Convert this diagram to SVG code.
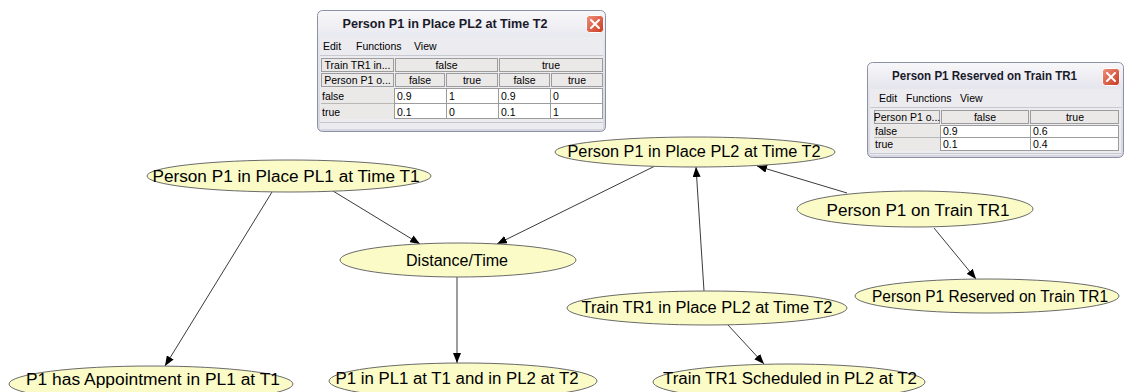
<svg xmlns="http://www.w3.org/2000/svg" width="1128" height="392" viewBox="0 0 1128 392">
  <style>
    .node ellipse { fill: #fbfbc8; stroke: #6a6a6a; stroke-width: 1; }
    .node text { font-family: "Liberation Sans", Arial, sans-serif; font-size: 16px; fill: #000; text-anchor: middle; }
    .edge { stroke: #3a3a3a; stroke-width: 1; fill: none; marker-end: url(#arrow); }
    .frame { fill: url(#titleGrad); stroke: #8c90a4; stroke-width: 1; }
    .body { fill: #ecebf0; }
    .title { font-family: "Liberation Sans", Arial, sans-serif; font-weight: bold; font-size: 13px; fill: #1a1a2a; text-anchor: middle; }
    .menu { font-family: "Liberation Sans", Arial, sans-serif; font-size: 10.5px; fill: #000; }
    .hdr { fill: #ebe8e8; stroke: #9c9c9c; stroke-width: 1; }
    .cell { fill: #ffffff; stroke: #9c9c9c; stroke-width: 1; }
    .t { font-family: "Liberation Sans", Arial, sans-serif; font-size: 10.5px; fill: #000; }
    .c { text-anchor: middle; }
    .close { fill: url(#closeGrad); stroke: #ffffff; stroke-width: 1; }
    .x { stroke: #ffffff; stroke-width: 2; stroke-linecap: round; }
  </style>
  <defs>
    <marker id="arrow" viewBox="0 0 10 8" refX="10" refY="4" markerWidth="10" markerHeight="8" markerUnits="userSpaceOnUse" orient="auto">
      <path d="M0,0 L10,4 L0,8 Z" fill="#000"/>
    </marker>
    <linearGradient id="titleGrad" x1="0" y1="0" x2="0" y2="1">
      <stop offset="0" stop-color="#f8f8fa"/>
      <stop offset="0.25" stop-color="#e6e6ee"/>
      <stop offset="1" stop-color="#d6d6e0"/>
    </linearGradient>
    <linearGradient id="closeGrad" x1="0" y1="0" x2="1" y2="1">
      <stop offset="0" stop-color="#f0907a"/>
      <stop offset="1" stop-color="#c83a20"/>
    </linearGradient>
  </defs>

  <rect width="1128" height="392" fill="#ffffff"/>

  <!-- connectors -->
  <g id="connectors">
    <line class="edge" x1="333" y1="191" x2="420" y2="244"/>
    <line class="edge" x1="655" y1="166" x2="497" y2="244"/>
    <line class="edge" x1="272" y1="192" x2="165" y2="366"/>
    <line class="edge" x1="457" y1="277" x2="457" y2="363"/>
    <line class="edge" x1="704" y1="291" x2="696" y2="167"/>
    <line class="edge" x1="847" y1="193" x2="757" y2="166"/>
    <line class="edge" x1="728" y1="325" x2="764" y2="364"/>
    <line class="edge" x1="934" y1="228" x2="976" y2="279"/>
  </g>

  <!-- nodes -->
  <g id="n_pl1_t1" class="node">
    <ellipse cx="289" cy="176" rx="142" ry="16"/>
    <text x="286" y="182" textLength="267" lengthAdjust="spacingAndGlyphs">Person P1 in Place PL1 at Time T1</text>
  </g>
  <g id="n_pl2_t2" class="node">
    <ellipse cx="695" cy="152" rx="140" ry="15"/>
    <text x="694" y="157" textLength="253" lengthAdjust="spacingAndGlyphs">Person P1 in Place PL2 at Time T2</text>
  </g>
  <g id="n_distance" class="node">
    <ellipse cx="458" cy="260" rx="118" ry="17"/>
    <text x="457" y="266" textLength="102" lengthAdjust="spacingAndGlyphs">Distance/Time</text>
  </g>
  <g id="n_on_train" class="node">
    <ellipse cx="915" cy="209" rx="118" ry="18"/>
    <text x="918" y="216" textLength="183" lengthAdjust="spacingAndGlyphs">Person P1 on Train TR1</text>
  </g>
  <g id="n_reserved" class="node">
    <ellipse cx="987" cy="296" rx="132" ry="17"/>
    <text x="990" y="302" textLength="236" lengthAdjust="spacingAndGlyphs">Person P1 Reserved on Train TR1</text>
  </g>
  <g id="n_train_pl2" class="node">
    <ellipse cx="707" cy="308" rx="140" ry="17"/>
    <text x="707" y="313" textLength="251" lengthAdjust="spacingAndGlyphs">Train TR1 in Place PL2 at Time T2</text>
  </g>
  <g id="n_scheduled" class="node">
    <ellipse cx="789" cy="382" rx="136" ry="18"/>
    <text x="790" y="384" textLength="254" lengthAdjust="spacingAndGlyphs">Train TR1 Scheduled in PL2 at T2</text>
  </g>
  <g id="n_appointment" class="node">
    <ellipse cx="151" cy="384" rx="142" ry="18"/>
    <text x="153" y="385" textLength="254" lengthAdjust="spacingAndGlyphs">P1 has Appointment in PL1 at T1</text>
  </g>
  <g id="n_both_places" class="node">
    <ellipse cx="463" cy="381" rx="134" ry="18"/>
    <text x="457" y="384" textLength="243" lengthAdjust="spacingAndGlyphs">P1 in PL1 at T1 and in PL2 at T2</text>
  </g>

  <!-- probability table window: Person P1 in Place PL2 at Time T2 -->
  <g id="table_pl2_t2">
    <rect class="frame" x="317.5" y="10.5" width="288" height="121" rx="5"/>
    <text class="title" x="445" y="28" textLength="205" lengthAdjust="spacingAndGlyphs">Person P1 in Place PL2 at Time T2</text>
    <rect class="close" x="586.5" y="15.5" width="17" height="17" rx="3"/>
    <line class="x" x1="591" y1="20" x2="599" y2="28"/>
    <line class="x" x1="599" y1="20" x2="591" y2="28"/>
    <rect class="body" x="320" y="37" width="283" height="92"/>
    <line x1="320" y1="55.5" x2="603" y2="55.5" stroke="#c8c8d0"/>
    <text class="menu" x="323" y="50">Edit</text>
    <text class="menu" x="356" y="50">Functions</text>
    <text class="menu" x="414" y="50">View</text>
    <!-- header rows -->
    <rect class="hdr" x="321.5" y="58.5" width="72" height="13"/>
    <rect class="hdr" x="395.5" y="58.5" width="102" height="13"/>
    <rect class="hdr" x="499.5" y="58.5" width="103" height="13"/>
    <text class="t c" x="357.5" y="69">Train TR1 in...</text>
    <text class="t c" x="446.5" y="69">false</text>
    <text class="t c" x="551" y="69">true</text>
    <rect class="hdr" x="321.5" y="73.5" width="72" height="13"/>
    <rect class="hdr" x="395.5" y="73.5" width="49" height="13"/>
    <rect class="hdr" x="446.5" y="73.5" width="51" height="13"/>
    <rect class="hdr" x="499.5" y="73.5" width="50" height="13"/>
    <rect class="hdr" x="551.5" y="73.5" width="51" height="13"/>
    <text class="t c" x="357.5" y="84">Person P1 o...</text>
    <text class="t c" x="420" y="84">false</text>
    <text class="t c" x="472" y="84">true</text>
    <text class="t c" x="524.5" y="84">false</text>
    <text class="t c" x="577" y="84">true</text>
    <!-- probability rows -->
    <rect x="321" y="88" width="73" height="31" fill="#ebe8e8"/>
    <rect class="cell" x="394.5" y="88.5" width="208" height="15"/>
    <rect class="cell" x="394.5" y="103.5" width="208" height="15"/>
    <line x1="446.5" y1="88" x2="446.5" y2="119" stroke="#9c9c9c"/>
    <line x1="498.5" y1="88" x2="498.5" y2="119" stroke="#9c9c9c"/>
    <line x1="550.5" y1="88" x2="550.5" y2="119" stroke="#9c9c9c"/>
    <line x1="321" y1="103.5" x2="394" y2="103.5" stroke="#b8b8b8"/>
    <text class="t" x="322" y="100">false</text>
    <text class="t" x="397" y="100">0.9</text>
    <text class="t" x="449" y="100">1</text>
    <text class="t" x="501" y="100">0.9</text>
    <text class="t" x="553" y="100">0</text>
    <text class="t" x="322" y="116">true</text>
    <text class="t" x="397" y="116">0.1</text>
    <text class="t" x="449" y="116">0</text>
    <text class="t" x="501" y="116">0.1</text>
    <text class="t" x="553" y="116">1</text>
    <line x1="320" y1="122.5" x2="603" y2="122.5" stroke="#c8c8d0"/>
  </g>

  <!-- probability table window: Person P1 Reserved on Train TR1 -->
  <g id="table_reserved">
    <rect class="frame" x="867.5" y="62.5" width="256" height="95" rx="5"/>
    <text class="title" x="984.5" y="80" textLength="185" lengthAdjust="spacingAndGlyphs">Person P1 Reserved on Train TR1</text>
    <rect class="close" x="1102.5" y="68.5" width="17" height="17" rx="3"/>
    <line class="x" x1="1107" y1="73" x2="1115" y2="81"/>
    <line class="x" x1="1115" y1="73" x2="1107" y2="81"/>
    <rect class="body" x="870" y="89" width="251" height="66"/>
    <line x1="870" y1="107.5" x2="1121" y2="107.5" stroke="#c8c8d0"/>
    <text class="menu" x="879" y="102">Edit</text>
    <text class="menu" x="906" y="102">Functions</text>
    <text class="menu" x="960" y="102">View</text>
    <rect class="hdr" x="874.5" y="110.5" width="65" height="13"/>
    <rect class="hdr" x="941.5" y="110.5" width="87" height="13"/>
    <rect class="hdr" x="1030.5" y="110.5" width="88" height="13"/>
    <text class="t c" x="907" y="121">Person P1 o...</text>
    <text class="t c" x="985" y="121">false</text>
    <text class="t c" x="1075" y="121">true</text>
    <rect x="874" y="125" width="67" height="26" fill="#ebe8e8"/>
    <rect class="cell" x="940.5" y="125.5" width="178" height="12"/>
    <rect class="cell" x="940.5" y="137.5" width="178" height="13"/>
    <line x1="1030.5" y1="125" x2="1030.5" y2="151" stroke="#9c9c9c"/>
    <line x1="874" y1="137.5" x2="940" y2="137.5" stroke="#b8b8b8"/>
    <text class="t" x="875" y="134.5">false</text>
    <text class="t" x="943" y="134.5">0.9</text>
    <text class="t" x="1033" y="134.5">0.6</text>
    <text class="t" x="875" y="148">true</text>
    <text class="t" x="943" y="148">0.1</text>
    <text class="t" x="1033" y="148">0.4</text>
    <line x1="870" y1="153.5" x2="1121" y2="153.5" stroke="#c8c8d0"/>
  </g>
</svg>
